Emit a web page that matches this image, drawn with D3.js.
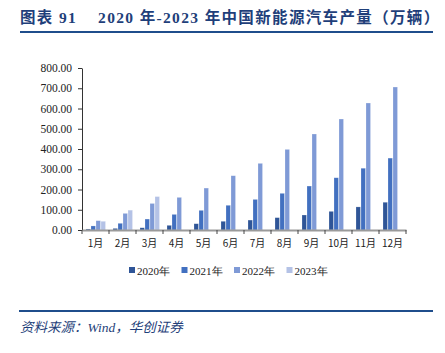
<!DOCTYPE html>
<html><head><meta charset="utf-8">
<script src="https://cdn.jsdelivr.net/npm/d3@7/dist/d3.min.js"></script>
<style>body{margin:0;background:#fff}svg{display:block}</style>
</head><body><svg id="c" width="445" height="353"></svg>
<script>
const months = ["1月","2月","3月","4月","5月","6月","7月","8月","9月","10月","11月","12月"];
const seriesNames = ["2020年","2021年","2022年","2023年"];
const v2020 = [5, 8, 11, 23, 31, 43, 49, 61, 74, 92, 114, 137];
const v2021 = [20, 33, 54, 77, 97, 122, 151, 181, 217, 258, 305, 355];
const v2022 = [46, 82, 131, 161, 207, 268, 329, 398, 474, 548, 627, 706];
const v2023 = [43, 98, 165, null, null, null, null, null, null, null, null, null];
const yTicks = [0,100,200,300,400,500,600,700,800];
const colors = ["#2F5597","#4270C0","#7F9AD6","#B4C2E6"];

const allSeries = [v2020, v2021, v2022, v2023];
const svg = d3.select("#c");
const serif = "'Liberation Serif','Times New Roman',serif";
const cjk = "'Noto Sans CJK SC','Liberation Serif',serif";

// title
svg.append("text").attr("x",20).attr("y",23).attr("fill","#1F3F7A")
  .attr("font-family","'Liberation Serif','Noto Sans CJK SC',serif").attr("font-weight","bold").attr("font-size",15.5)
  .attr("letter-spacing",1.35)
  .text("图表 91\u00a0\u00a0\u00a0\u00a02020 年-2023 年中国新能源汽车产量（万辆）");
svg.append("line").attr("x1",20).attr("x2",433).attr("y1",32).attr("y2",32).attr("stroke","#1F4E8C").attr("stroke-width",2);

const x = d3.scaleBand().domain(months).range([82,406]).paddingInner(0).paddingOuter(0);
const x1 = d3.scaleBand().domain(seriesNames).range([4, 24]);
const y = d3.scaleLinear().domain([0,800]).range([230,68]);

// bars
const g = svg.append("g");
months.forEach((m,i)=>{
  allSeries.forEach((s,j)=>{
    const v = s[i];
    if (v==null) return;
    g.append("rect").attr("x", x(m)+x1(seriesNames[j])).attr("width", x1.bandwidth()-0.5)
      .attr("y", y(v)).attr("height", y(0)-y(v)).attr("fill", colors[j])
      .attr("stroke","#ffffff").attr("stroke-opacity",0.35).attr("stroke-width",0.6);
  });
});

// y axis
const ya = svg.append("g").attr("transform","translate(82,0)")
  .call(d3.axisLeft(y).tickValues(yTicks).tickFormat(d3.format(".2f")).tickSize(4).tickSizeOuter(0));
ya.select(".domain").attr("stroke","#333");
ya.selectAll(".tick line").attr("stroke","#333");
ya.selectAll("text").attr("font-family",serif).attr("font-size",11.5).attr("fill","#222").attr("dx",-3);

// x axis
const xa = svg.append("g").attr("transform","translate(0,230)")
  .call(d3.axisBottom(x).tickSize(0).tickPadding(10));
xa.select(".domain").attr("stroke","#9a9a9a").attr("stroke-width",2);
xa.selectAll("text").attr("font-family",cjk).attr("font-size",10).attr("fill","#222");
const bounds = months.map(m=>x(m)).concat([x.range()[1]]);
svg.append("g").selectAll("line").data(bounds).join("line")
  .attr("x1",d=>d).attr("x2",d=>d).attr("y1",230).attr("y2",234).attr("stroke","#444").attr("stroke-width",1);

// legend
const lg = svg.append("g");
seriesNames.forEach((n,i)=>{
  const lx = 129 + i*52.5;
  lg.append("rect").attr("x",lx).attr("y",267).attr("width",6).attr("height",6).attr("fill",colors[i]);
  lg.append("text").attr("x",lx+8).attr("y",275).attr("font-family",serif).attr("font-size",11).attr("fill","#222").text(n);
});

// footer
svg.append("line").attr("x1",19).attr("x2",433).attr("y1",311).attr("y2",311).attr("stroke","#1F4E8C").attr("stroke-width",2);
svg.append("text").attr("x",20).attr("y",332).attr("fill","#1F3F7A").attr("font-style","italic")
  .attr("font-family","'Liberation Serif','Noto Sans CJK SC',serif").attr("font-size",13.5)
  .text("资料来源：Wind，华创证券");
</script></body></html>
